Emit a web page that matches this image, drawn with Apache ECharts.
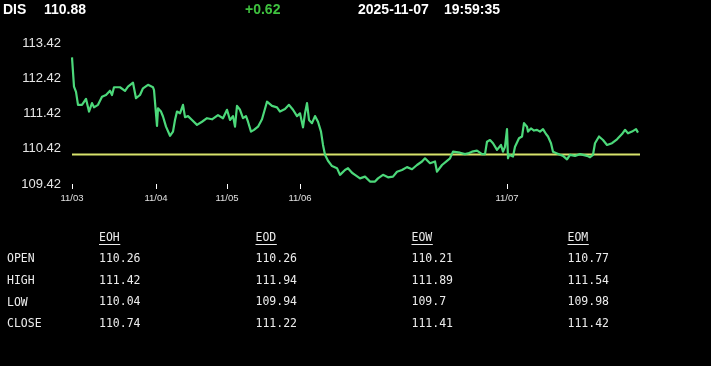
<!DOCTYPE html>
<html>
<head>
<meta charset="utf-8">
<script src="https://cdn.jsdelivr.net/npm/echarts@6/dist/echarts.min.js"></script>
<style>
html,body{margin:0;padding:0;background:#000;}
#chart{width:711px;height:366px;}
</style>
</head>
<body>
<div id="chart"></div>
<script>
// ---- header ----
var symbol = 'DIS';
var lastPrice = '110.88';
var change = '+0.62';
var dateText = '2025-11-07';
var timeText = '19:59:35';

// ---- price line: sample index and price ----
var sampleIdx = [0,2,4,5,6,10,14,17,20,22,26,30,34,38,40,42,48,53,56,61,64,68,71,76,81,82,85,86,89,91,94,98,101,103,105,108,111,113,116,120,125,130,135,140,146,151,155,158,161,163,165,168,171,174,176,179,182,186,190,192,195,200,205,208,213,217,221,225,228,231,233,235,237,240,243,246,249,251,253,256,260,265,268,273,276,280,283,288,293,298,303,306,311,316,321,325,330,335,340,345,350,353,358,363,365,370,375,378,381,388,393,396,400,405,410,413,415,418,421,425,429,431,433,435,436,437,441,443,445,447,450,452,455,456,459,462,465,468,471,474,476,479,481,485,488,491,495,498,503,508,515,518,521,523,527,531,535,540,545,550,553,556,560,564,566];
var prices = [113.02,112.19,112.04,112.00,111.67,111.67,111.84,111.48,111.72,111.60,111.67,111.90,111.95,112.07,111.95,112.17,112.17,112.07,112.19,112.30,111.86,111.95,112.14,112.24,112.17,112.09,111.07,111.57,111.48,111.34,111.05,110.79,110.91,111.24,111.48,111.43,111.67,111.32,111.35,111.24,111.10,111.19,111.29,111.26,111.38,111.29,111.53,111.24,111.35,111.05,111.64,111.53,111.29,111.35,111.19,110.91,110.96,111.05,111.26,111.29,111.76,111.64,111.60,111.48,111.55,111.67,111.53,111.35,111.43,111.03,111.43,111.72,111.24,111.15,111.35,111.19,110.91,110.53,110.25,110.08,109.93,109.87,109.68,109.82,109.87,109.74,109.68,109.58,109.63,109.49,109.49,109.58,109.68,109.61,109.63,109.77,109.82,109.90,109.84,109.96,110.06,110.15,110.01,110.06,109.77,109.96,110.08,110.15,110.34,110.31,110.27,110.29,110.34,110.37,110.27,110.27,110.62,110.67,110.58,110.39,110.53,110.34,110.48,110.98,110.15,110.25,110.20,110.48,110.44,110.72,110.77,111.15,111.05,110.91,111.00,110.94,110.96,110.91,110.98,110.84,110.77,110.58,110.34,110.29,110.25,110.22,110.12,110.25,110.22,110.27,110.22,110.18,110.25,110.58,110.77,110.67,110.53,110.58,110.69,110.84,110.96,110.86,110.91,110.98,110.88];
var prevClose = 110.26;
var lastIdx = 568;

// ---- axes ----
var dayTickIdx = [0, 84, 155, 228, 435];
var dayLabels = ['11/03', '11/04', '11/05', '11/06', '11/07'];
var yMin = 109.42, yMax = 113.42, yStep = 1;

// ---- table ----
var colHeads = ['EOH', 'EOD', 'EOW', 'EOM'];
var rowHeads = ['OPEN', 'HIGH', 'LOW', 'CLOSE'];
var eohVals = ['110.26', '111.42', '110.04', '110.74'];
var eodVals = ['110.26', '111.94', '109.94', '111.22'];
var eowVals = ['110.21', '111.89', '109.7', '111.41'];
var eomVals = ['110.77', '111.54', '109.98', '111.42'];

var lineData = sampleIdx.map(function (x, i) { return [x, prices[i]]; });

var chart = echarts.init(document.getElementById('chart'));

var graphics = [];
var hdrFont = 'bold 14px "Liberation Sans", Arial, sans-serif';
function hdr(text, x, color) {
  graphics.push({ type: 'text', x: x, y: 10, silent: true,
    style: { text: text, font: hdrFont, fill: color, align: 'left', verticalAlign: 'middle', textAlign: 'left', textVerticalAlign: 'middle' } });
}
hdr(symbol, 3, '#ffffff');
hdr(lastPrice, 44, '#ffffff');
hdr(change, 245, '#3fc23f');
hdr(dateText, 358, '#ffffff');
hdr(timeText, 444, '#ffffff');

var tblFont = '11.5px "DejaVu Sans Mono", "Liberation Mono", monospace';
var colX = [99, 255.5, 411.5, 567.5];
var rowY0 = 259, rowDy = 21.6;
var colVals = [eohVals, eodVals, eowVals, eomVals];
function txt(text, x, y) {
  graphics.push({ type: 'text', x: x, y: y, silent: true,
    style: { text: text, font: tblFont, fill: '#ececec', align: 'left', verticalAlign: 'middle', textAlign: 'left', textVerticalAlign: 'middle' } });
}
colHeads.forEach(function (h, c) {
  txt(h, colX[c], 238);
  graphics.push({ type: 'line', silent: true,
    shape: { x1: colX[c], y1: 244.5, x2: colX[c] + h.length * 7.1, y2: 244.5 },
    style: { stroke: '#ececec', lineWidth: 1 } });
});
rowHeads.forEach(function (r, i) {
  var y = rowY0 + i * rowDy;
  txt(r, 7, y + 0.5);
  colVals.forEach(function (vals, c) { txt(vals[i], colX[c], y); });
});

chart.setOption({
  backgroundColor: '#000000',
  animation: false,
  grid: { left: 72, right: 71, top: 43.3, bottom: 182, containLabel: false },
  xAxis: {
    type: 'value', min: 0, max: lastIdx,
    axisLine: { show: false },
    splitLine: { show: false },
    axisTick: { show: true, customValues: dayTickIdx, length: 5, lineStyle: { color: '#ffffff', width: 1 } },
    axisLabel: {
      show: true, customValues: dayTickIdx, margin: 9, color: '#e0e0e0', fontSize: 9.5,
      fontFamily: '"Liberation Sans", Arial, sans-serif',
      formatter: function (v) { var k = dayTickIdx.indexOf(v); return k >= 0 ? dayLabels[k] : ''; }
    }
  },
  yAxis: {
    type: 'value', min: yMin, max: yMax, interval: yStep,
    axisLine: { show: false }, axisTick: { show: false }, splitLine: { show: false },
    axisLabel: { margin: 11, color: '#e6e6e6', fontSize: 13, fontFamily: '"Liberation Sans", Arial, sans-serif',
      formatter: function (v) { return v.toFixed(2); } }
  },
  series: [
    { type: 'line', data: [[0, prevClose], [lastIdx, prevClose]], symbol: 'none', silent: true,
      lineStyle: { color: '#d8e36c', width: 2 }, z: 2 },
    { type: 'line', data: lineData, symbol: 'none', silent: true,
      lineStyle: { color: '#4cd87a', width: 2.2, join: 'round' }, z: 3 }
  ],
  graphic: graphics
});
</script>
</body>
</html>
